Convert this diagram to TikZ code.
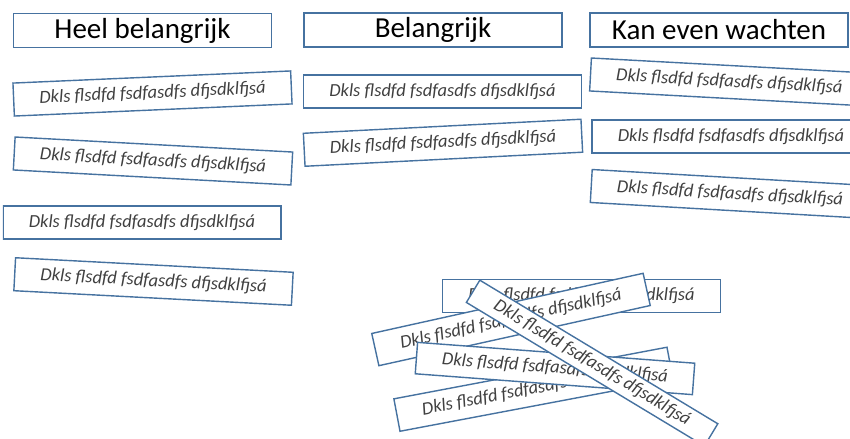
\documentclass[tikz,border=0pt]{standalone}
\usepackage{fontspec}
\setmainfont{Carlito}
\definecolor{kaartrand}{RGB}{70,114,160}
\definecolor{kaartinkt}{RGB}{64,64,64}
\tikzset{
  kop/.style={draw=kaartrand, line width=0.9pt, minimum width=5.16cm, minimum height=0.68cm, inner sep=0pt, font=\fontsize{16.5}{16.5}\selectfont},
  kaart/.style={draw=kaartrand, fill=white, line width=0.8pt, minimum width=5.56cm, minimum height=0.66cm, inner sep=0pt, text=kaartinkt, font=\itshape\fontsize{10.5}{10.5}\selectfont},
}
\newcommand{\notitie}{Dkls flsdfd fsdfasdfs dfjsdklfjsá}
\begin{document}
\begin{tikzpicture}[x=0.02cm,y=-0.02cm]
\useasboundingbox (0,0) rectangle (850,439);
\clip (3,0) rectangle (850,439);

% kolomkoppen
\node[kop] (kop1) at (142.5,30.5) {Heel belangrijk};
\node[kop] (kop2) at (433,30) {Belangrijk};
\node[kop] (kop3) at (719,30) {Kan even wachten};

% heel belangrijk
\node[kaart, rotate=2.5] (hb1) at (152.5,93.5) {\notitie};
\node[kaart, rotate=-3.1] (hb2) at (153,161) {\notitie};
\node[kaart] (hb3) at (142,222.5) {\notitie};
\node[kaart, rotate=-3] (hb4) at (153.5,281.5) {\notitie};

% belangrijk
\node[kaart] (b1) at (442.5,91.5) {\notitie};
\node[kaart, rotate=2.9] (b2) at (443,142.75) {\notitie};

% kan even wachten
\node[kaart, rotate=-3.1] (kw1) at (729.3,82) {\notitie};
\node[kaart] (kw2) at (731,136.5) {\notitie};
\node[kaart, rotate=-3.3] (kw3) at (730,194) {\notitie};

% stapel
\node[kaart] (s1) at (581.5,296) {\notitie};
\node[kaart, rotate=12.5] (s2) at (511,319.5) {\notitie};
\node[kaart, rotate=10.7] (s3) at (533.5,389.25) {\notitie};
\node[kaart, rotate=-4.3, minimum height=0.63cm] (s4) at (555,368.5) {\notitie};
\node[kaart, rotate=-31.1, minimum height=0.52cm] (s5) at (592.1,363.1) {\notitie};
\end{tikzpicture}
\end{document}
